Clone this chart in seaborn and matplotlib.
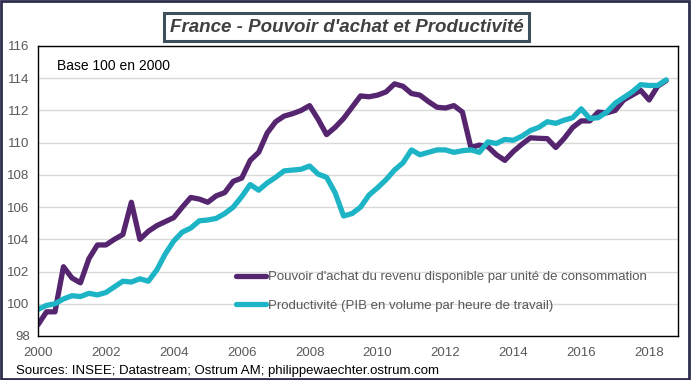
import numpy as np
import pandas as pd
import matplotlib
matplotlib.use('Agg')
import matplotlib.pyplot as plt
import matplotlib.patches as mpatches
import seaborn as sns

# Données trimestrielles 2000T1 - 2018T3 (base 100 en 2000)
pouvoir_achat = [98.7, 99.5, 99.5, 102.3, 101.6, 101.3, 102.8, 103.65, 103.65, 104.0,
                 104.3, 106.3, 104.0, 104.5, 104.85, 105.1, 105.35, 106.0, 106.6, 106.5,
                 106.3, 106.7, 106.9, 107.6, 107.8, 108.9, 109.4, 110.6, 111.3, 111.65,
                 111.8, 112.0, 112.3, 111.45, 110.5, 110.95, 111.5, 112.2, 112.9, 112.85,
                 112.95, 113.15, 113.65, 113.5, 113.05, 112.95, 112.55, 112.2, 112.15, 112.3,
                 111.9, 109.7, 109.85, 109.75, 109.25, 108.9, 109.45, 109.9, 110.3, 110.27,
                 110.25, 109.7, 110.27, 110.95, 111.35, 111.35, 111.9, 111.85, 112.0, 112.65,
                 112.95, 113.25, 112.65, 113.5, 113.85]
productivite = [99.65, 99.9, 100.0, 100.3, 100.5, 100.45, 100.65, 100.55, 100.7, 101.05,
                101.4, 101.35, 101.55, 101.4, 102.1, 103.1, 103.9, 104.45, 104.7, 105.15,
                105.2, 105.3, 105.6, 106.0, 106.65, 107.4, 107.05, 107.5, 107.85, 108.25,
                108.3, 108.35, 108.55, 108.05, 107.85, 106.9, 105.45, 105.6, 106.0, 106.75,
                107.2, 107.7, 108.3, 108.75, 109.55, 109.25, 109.4, 109.55, 109.55, 109.4,
                109.5, 109.55, 109.4, 110.05, 109.95, 110.2, 110.15, 110.4, 110.75, 110.95,
                111.3, 111.2, 111.4, 111.55, 112.1, 111.5, 111.55, 111.9, 112.45, 112.8,
                113.15, 113.6, 113.55, 113.55, 113.9]
dates = 2000 + np.arange(len(pouvoir_achat)) / 4

lab_pa = "Pouvoir d'achat du revenu disponible par unité de consommation"
lab_prod = "Productivité (PIB en volume par heure de travail)"
years = list(range(2000, 2019, 2))
yticks = list(range(98, 117, 2))

df = pd.DataFrame({
    'date': np.concatenate([dates, dates]),
    'valeur': pouvoir_achat + productivite,
    'serie': [lab_pa] * len(dates) + [lab_prod] * len(dates),
})

sns.set_style('white')
plt.rcParams['font.family'] = ['Liberation Sans', 'DejaVu Sans']

fig = plt.figure(figsize=(6.93, 3.80), dpi=100)
ax = fig.add_axes([38 / 693, 1 - 336 / 380, 640 / 693, 290 / 380])

sns.lineplot(data=df, x='date', y='valeur', hue='serie', ax=ax,
             palette={lab_pa: '#55256f', lab_prod: '#1db5c6'},
             linewidth=3.8, legend=False)

ax.set_xlim(2000, 2018.85)
ax.set_ylim(98, 116)
ax.set_xticks(years)
ax.set_yticks(yticks)
ax.set_xticklabels([str(y) for y in years])
ax.grid(axis='y', color='#d9d9d9', linewidth=1)
ax.set_axisbelow(True)
ax.tick_params(axis='both', length=0, labelsize=9.5, labelcolor='#595959')
ax.tick_params(axis='x', pad=8)
ax.tick_params(axis='y', pad=6)
ax.set_xlabel('')
ax.set_ylabel('')
for s in ax.spines.values():
    s.set_color('black')
    s.set_linewidth(1)

ax.text(0.03, 0.93, 'Base 100 en 2000', transform=ax.transAxes,
        fontsize=10, color='black', va='center', ha='left')

handles = [plt.Line2D([], [], color='#55256f', lw=3.8),
           plt.Line2D([], [], color='#1db5c6', lw=3.8)]
leg = fig.legend(handles, [lab_pa, lab_prod], loc='upper left',
                 bbox_to_anchor=(236 / 693, 1 - 271 / 380), frameon=False,
                 fontsize=9.5, handlelength=2.3, handletextpad=0.1,
                 labelspacing=1.25, borderpad=0, borderaxespad=0)
for t in leg.get_texts():
    t.set_color('#595959')

# titre encadré
fig.text(0.5, 1 - 27 / 380, "France - Pouvoir d'achat et Productivité",
         ha='center', va='center', fontsize=13.5, fontweight='bold', style='italic',
         color='#404040',
         bbox=dict(boxstyle='square,pad=0.3', facecolor='white',
                   edgecolor='#3f4f5c', linewidth=2.2))

fig.text(16 / 693, 1 - 371 / 380,
         'Sources: INSEE; Datastream; Ostrum AM; philippewaechter.ostrum.com',
         fontsize=9.5, color='black', va='center', ha='left')

# cadre extérieur
fig.patches.append(mpatches.Rectangle((0.002, 0.003), 688 / 693, 0.994,
                                      transform=fig.transFigure, fill=False,
                                      edgecolor='#2d2d4d', linewidth=2))

fig.savefig('out.png', dpi=100)
